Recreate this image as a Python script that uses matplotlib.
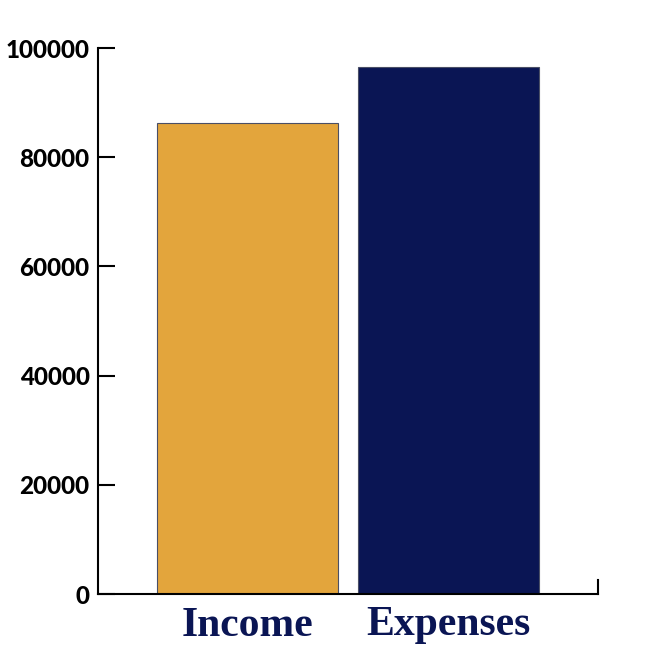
import matplotlib
matplotlib.use("Agg")
import matplotlib.pyplot as plt

# dados
categorias = ["Income", "Expenses"]
valores = [86200, 96500]
cores = ["#E3A53C", "#0A1554"]
yticks = [0, 20000, 40000, 60000, 80000, 100000]

fig = plt.figure(figsize=(6.5, 6.54), dpi=100)
ax = fig.add_axes([98 / 650, 60 / 654, 500 / 650, 546 / 654])

ax.bar(range(len(categorias)), valores, width=0.9, color=cores,
       edgecolor="#4a4f66", linewidth=0.8)

ax.set_xlim(-0.744, 1.744)
ax.set_ylim(0, 100000)
ax.set_yticks(yticks)
ax.set_yticklabels([str(v) for v in yticks], fontfamily="Lato",
                   fontweight=900, fontsize=17.5)
ax.tick_params(axis="y", direction="in", length=12, width=1.5, pad=6)
ax.set_xticks(range(len(categorias)))
ax.set_xticklabels(categorias, fontfamily="Liberation Serif",
                   fontweight="bold", fontsize=30, color="#0A1554")
ax.tick_params(axis="x", length=0, pad=9)

ax.spines["top"].set_visible(False)
ax.spines["right"].set_bounds(0, 2600)
for lado in ["left", "bottom", "right"]:
    ax.spines[lado].set_linewidth(1.5)

plt.savefig("out.png", dpi=100)
